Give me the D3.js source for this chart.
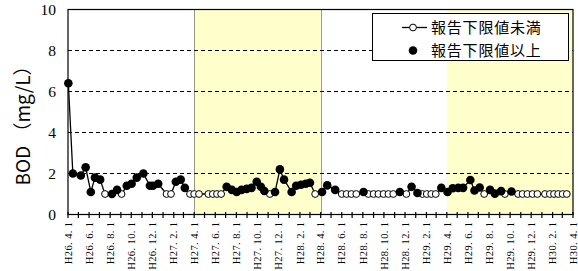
<!DOCTYPE html>
<html><head><meta charset="utf-8">
<script src="https://cdn.jsdelivr.net/npm/d3@7"></script>
<style>body{margin:0;background:#fff}</style>
</head><body><svg id="c" width="578" height="271"></svg>
<script>
// ---- data ----
const dates = ["2014-04-02","2014-04-15","2014-05-08","2014-05-22","2014-06-06","2014-06-18","2014-07-03","2014-07-17","2014-08-06","2014-08-21","2014-09-03","2014-09-18","2014-10-02","2014-10-17","2014-11-05","2014-11-24","2014-12-03","2014-12-18","2015-01-11","2015-01-24","2015-02-07","2015-02-21","2015-03-05","2015-03-20","2015-04-01","2015-04-15","2015-05-12","2015-05-25","2015-06-06","2015-06-18","2015-07-04","2015-07-19","2015-08-02","2015-08-16","2015-08-31","2015-09-14","2015-09-29","2015-10-11","2015-10-21","2015-11-06","2015-11-21","2015-12-05","2015-12-17","2016-01-08","2016-01-21","2016-02-04","2016-02-18","2016-03-01","2016-03-16","2016-04-05","2016-04-20","2016-05-13","2016-06-01","2016-06-15","2016-06-29","2016-07-13","2016-08-03","2016-08-17","2016-09-01","2016-09-15","2016-09-30","2016-10-14","2016-10-28","2016-11-16","2016-12-05","2016-12-20","2017-01-06","2017-01-20","2017-02-02","2017-02-15","2017-02-28","2017-03-16","2017-04-03","2017-04-18","2017-05-04","2017-05-18","2017-06-08","2017-06-20","2017-07-05","2017-07-18","2017-08-04","2017-08-18","2017-09-05","2017-09-16","2017-10-05","2017-10-24","2017-11-06","2017-11-20","2017-12-05","2017-12-19","2018-01-10","2018-01-24","2018-02-05","2018-02-17","2018-03-02","2018-03-14"];
const values = [6.4,2.0,1.9,2.3,1.1,1.8,1.7,1.0,1.0,1.2,1.0,1.4,1.5,1.8,2.0,1.4,1.4,1.5,1.0,1.0,1.6,1.7,1.3,1.0,1.0,1.0,1.0,1.0,1.0,1.0,1.35,1.2,1.1,1.2,1.25,1.3,1.6,1.35,1.15,1.0,1.1,2.2,1.7,1.1,1.4,1.45,1.5,1.55,1.0,1.1,1.42,1.2,1.0,1.0,1.0,1.0,1.1,1.0,1.0,1.0,1.0,1.0,1.0,1.1,1.0,1.35,1.05,1.0,1.0,1.0,1.0,1.3,1.1,1.28,1.3,1.3,1.68,1.17,1.32,1.0,1.2,1.02,1.14,1.0,1.12,1.0,1.0,1.0,1.0,1.0,1.0,1.0,1.0,1.0,1.0,1.0];
// 1 = below reporting limit (open marker), 0 = at/above (filled marker)
const belowLimit = [0,0,0,0,0,0,0,1,0,0,1,0,0,0,0,0,0,0,1,1,0,0,0,1,1,1,1,1,1,1,0,0,0,0,0,0,0,0,0,1,0,0,0,0,0,0,0,0,1,0,0,0,1,1,1,1,0,1,1,1,1,1,1,0,1,0,0,1,1,1,1,0,0,0,0,0,0,0,0,1,0,0,0,1,0,1,1,1,1,1,1,1,1,1,1,1];
const xTickLabels = ["H26. 4. 1","H26. 6. 1","H26. 8. 1","H26. 10. 1","H26. 12. 1","H27. 2. 1","H27. 4. 1","H27. 6. 1","H27. 8. 1","H27. 10. 1","H27. 12. 1","H28. 2. 1","H28. 4. 1","H28. 6. 1","H28. 8. 1","H28. 10. 1","H28. 12. 1","H29. 2. 1","H29. 4. 1","H29. 6. 1","H29. 8. 1","H29. 10. 1","H29. 12. 1","H30. 2. 1","H30. 4. 1"];
const yTicks = [0,2,4,6,8,10];
const shadeRanges = [["2015-04-01","2016-04-01"],["2017-04-01","2018-04-01"]];
const dividerDates = ["2015-04-01","2016-04-01"];
const legendLabels = ["報告下限値未満","報告下限値以上"];
const yTitle = "BOD （mg/L）";

// ---- chart ----
const parse = d3.timeParse("%Y-%m-%d");
const labelToDate = s => { const p = s.replace(/\s/g,"").slice(1).split("."); return new Date(1988 + +p[0], +p[1]-1, +p[2]); };
const m = {l:68, r:573, t:9.5, b:214.5};
const x = d3.scaleTime().domain([parse("2014-04-01"), parse("2018-04-01")]).range([m.l, m.r]);
const y = d3.scaleLinear().domain([0,10]).range([m.b, m.t]);
const svg = d3.select("#c");
const data = dates.map((d,i)=>({date:parse(d), v:values[i], below:belowLimit[i]===1}));

// shading
svg.selectAll("rect.shade").data(shadeRanges).join("rect")
  .attr("x", d=>x(parse(d[0]))).attr("width", d=>x(parse(d[1]))-x(parse(d[0])))
  .attr("y", m.t).attr("height", m.b-m.t).attr("fill", "#FFFFCC");

// gridlines
svg.selectAll("line.grid").data(yTicks.filter(t=>t>0 && t<10)).join("line")
  .attr("x1", m.l).attr("x2", m.r).attr("y1", d=>y(d)).attr("y2", d=>y(d))
  .attr("stroke", "#000").attr("stroke-width", 1).attr("stroke-dasharray", "4,3");

// dividers
svg.selectAll("line.div").data(dividerDates).join("line")
  .attr("x1", d=>Math.round(x(parse(d)))+0.5).attr("x2", d=>Math.round(x(parse(d)))+0.5)
  .attr("y1", m.t).attr("y2", m.b)
  .attr("stroke", "#333").attr("stroke-width", 1).attr("stroke-dasharray", "1,1");

// frame
svg.append("rect").attr("x", m.l).attr("y", m.t).attr("width", m.r-m.l).attr("height", m.b-m.t)
  .attr("fill", "none").attr("stroke", "#000").attr("stroke-width", 1.2);

// x ticks (monthly, crossing the axis)
const months = d3.timeMonth.range(parse("2014-04-01"), d3.timeDay.offset(parse("2018-04-01"),1));
svg.selectAll("line.xt").data(months).join("line")
  .attr("x1", d=>x(d)).attr("x2", d=>x(d)).attr("y1", m.b-2.5).attr("y2", m.b+3.5)
  .attr("stroke", "#000").attr("stroke-width", 1.2);

// x labels
svg.selectAll("text.xl").data(xTickLabels).join("text")
  .attr("transform", d=>`translate(${x(labelToDate(d))+3.7},${m.b+7}) rotate(-90)`)
  .attr("text-anchor", "end")
  .attr("font-family", "Liberation Serif, serif").attr("font-size", 10.5)
  .attr("letter-spacing", 0.4)
  .text(d=>d);

// y labels
svg.selectAll("text.yl").data(yTicks).join("text")
  .attr("x", 56).attr("y", d=>y(d)).attr("dy", "0.35em")
  .attr("text-anchor", "end")
  .attr("font-family", "Liberation Serif, serif").attr("font-size", 15.5)
  .text(d=>d);

// y title
svg.append("text").attr("transform", "translate(30,121) rotate(-90)")
  .attr("text-anchor", "middle")
  .attr("font-family", "Noto Sans CJK JP, sans-serif").attr("font-size", 19)
  .text(yTitle);

// line
svg.append("path").datum(data)
  .attr("d", d3.line().x(d=>x(d.date)).y(d=>y(d.v)))
  .attr("fill", "none").attr("stroke", "#000").attr("stroke-width", 1.3);

// markers
svg.selectAll("circle.open").data(data.filter(d=>d.below)).join("circle")
  .attr("cx", d=>x(d.date)).attr("cy", d=>y(d.v)).attr("r", 3.4)
  .attr("fill", "#fff").attr("stroke", "#000").attr("stroke-width", 1);
svg.selectAll("circle.fill").data(data.filter(d=>!d.below)).join("circle")
  .attr("cx", d=>x(d.date)).attr("cy", d=>y(d.v)).attr("r", 4.3)
  .attr("fill", "#000");

// legend
const lg = svg.append("g");
lg.append("rect").attr("x", 372.5).attr("y", 13.5).attr("width", 196).attr("height", 47)
  .attr("fill", "#fff").attr("stroke", "#000").attr("stroke-width", 1);
lg.append("line").attr("x1", 402).attr("x2", 427).attr("y1", 27.5).attr("y2", 27.5)
  .attr("stroke", "#000").attr("stroke-width", 1.3);
lg.append("circle").attr("cx", 413).attr("cy", 27.5).attr("r", 3.4)
  .attr("fill", "#fff").attr("stroke", "#000");
lg.append("circle").attr("cx", 413).attr("cy", 50.5).attr("r", 4.3).attr("fill", "#000");
lg.selectAll("text").data(legendLabels).join("text")
  .attr("x", 431).attr("y", (d,i)=>27.5 + i*23).attr("dy", "0.36em")
  .attr("font-family", "Noto Sans CJK JP, sans-serif").attr("font-size", 15)
  .attr("letter-spacing", 0.8)
  .text(d=>d);
</script></body></html>
